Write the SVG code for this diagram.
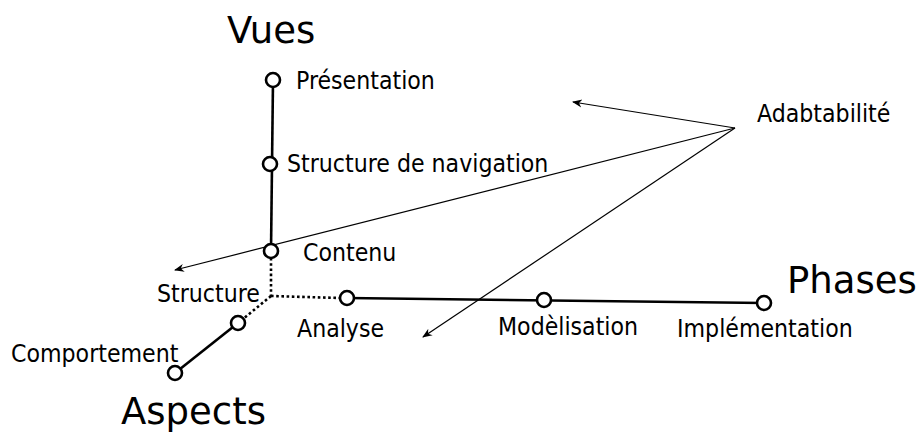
<svg xmlns="http://www.w3.org/2000/svg" width="918" height="432" viewBox="0 0 918 432">
  <defs>
    <marker id="arrow" viewBox="0 0 10 10" refX="9" refY="5" markerWidth="10" markerHeight="10" markerUnits="userSpaceOnUse" orient="auto">
      <path d="M0,1 L10,5 L0,9 L3,5 Z" fill="#000"/>
    </marker>
  </defs>
  <style>
    .axis { stroke: #000; stroke-width: 2.6; fill: none; }
    .dot { stroke: #000; stroke-width: 2.6; fill: none; stroke-dasharray: 2.6 2.6; }
    .ptr { stroke: #000; stroke-width: 1.2; fill: none; marker-end: url(#arrow); }
    .node { fill: #fff; stroke: #000; stroke-width: 2.6; }
    .lbl { font-family: "DejaVu Sans Condensed", "DejaVu Sans", sans-serif; font-stretch: condensed; font-size: 24.6px; fill: #000; }
    .title { font-family: "DejaVu Sans", sans-serif; font-size: 37px; fill: #000; }
  </style>

  <g id="connectors">
    <!-- Vues axis -->
    <line class="axis" x1="273" y1="80" x2="271" y2="251"/>
    <line class="dot" x1="271" y1="258" x2="271" y2="296"/>
    <!-- Phases axis -->
    <line class="dot" x1="271" y1="296" x2="340" y2="298"/>
    <line class="axis" x1="347" y1="298" x2="764" y2="303"/>
    <!-- Aspects axis -->
    <line class="dot" x1="271" y1="296" x2="243" y2="319"/>
    <line class="axis" x1="238" y1="323" x2="175" y2="373"/>
    <!-- Adabtabilité pointers -->
    <line class="ptr" x1="735" y1="128" x2="573" y2="102"/>
    <line class="ptr" x1="735" y1="128" x2="175" y2="270"/>
    <line class="ptr" x1="735" y1="128" x2="423" y2="337"/>
  </g>

  <g id="vues">
    <text class="title" x="227" y="43">Vues</text>
  </g>
  <g id="presentation">
    <circle class="node" cx="273" cy="80" r="7"/>
    <text class="lbl" x="296" y="89">Présentation</text>
  </g>
  <g id="navigation">
    <circle class="node" cx="270" cy="164" r="7"/>
    <text class="lbl" x="287" y="172">Structure de navigation</text>
  </g>
  <g id="contenu">
    <circle class="node" cx="271" cy="251" r="7"/>
    <text class="lbl" x="303" y="261">Contenu</text>
  </g>
  <g id="structure">
    <text class="lbl" x="157" y="302">Structure</text>
  </g>
  <g id="phases">
    <text class="title" x="787" y="293">Phases</text>
  </g>
  <g id="analyse">
    <circle class="node" cx="347" cy="298" r="7"/>
    <text class="lbl" x="297" y="337">Analyse</text>
  </g>
  <g id="modelisation">
    <circle class="node" cx="544" cy="300" r="7"/>
    <text class="lbl" x="498" y="335">Modèlisation</text>
  </g>
  <g id="implementation">
    <circle class="node" cx="764" cy="303" r="7"/>
    <text class="lbl" x="677" y="337">Implémentation</text>
  </g>
  <g id="aspects">
    <text class="title" x="121" y="424">Aspects</text>
  </g>
  <g id="aspect-mid">
    <circle class="node" cx="238" cy="323" r="7"/>
  </g>
  <g id="comportement">
    <circle class="node" cx="175" cy="373" r="7"/>
    <text class="lbl" x="11" y="362">Comportement</text>
  </g>
  <g id="adaptabilite">
    <text class="lbl" x="757" y="122">Adabtabilité</text>
  </g>
</svg>
